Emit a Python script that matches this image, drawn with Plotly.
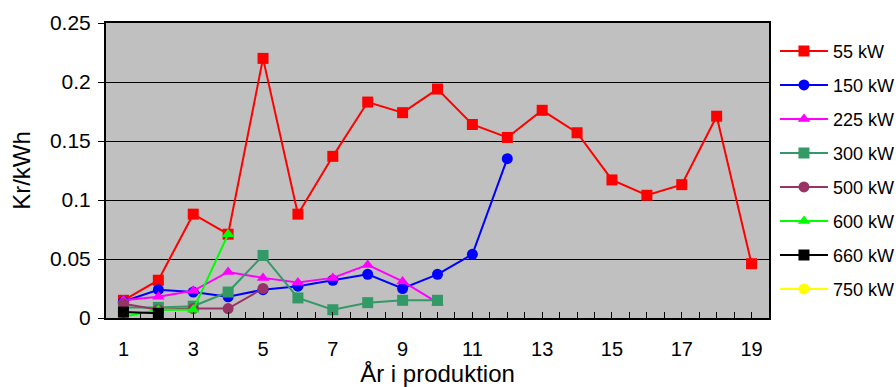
import plotly.graph_objects as go

years = list(range(1, 20))
x_tick_vals = [1, 3, 5, 7, 9, 11, 13, 15, 17, 19]
x_tick_text = ["1", "3", "5", "7", "9", "11", "13", "15", "17", "19"]

series_names = ["55 kW", "150 kW", "225 kW", "300 kW", "500 kW", "600 kW", "660 kW", "750 kW"]

v55 = [0.015, 0.032, 0.088, 0.071, 0.220, 0.088, 0.137, 0.183, 0.174, 0.194,
       0.164, 0.153, 0.176, 0.157, 0.117, 0.104, 0.113, 0.171, 0.046]
v150 = [0.014, 0.024, 0.022, 0.018, 0.024, 0.027, 0.032, 0.037, 0.025, 0.037,
        0.054, 0.135]
v225 = [0.015, 0.018, 0.023, 0.039, 0.034, 0.030, 0.034, 0.045, 0.031, 0.013]
v300 = [0.009, 0.009, 0.010, 0.022, 0.053, 0.017, 0.007, 0.013, 0.015, 0.015]
v500 = [0.012, 0.007, 0.008, 0.008, 0.025]
v600 = [0.001, 0.007, 0.007, 0.071]
v660 = [0.005, 0.004]
v750 = []

values = [v55, v150, v225, v300, v500, v600, v660, v750]
colors = ["#FF0000", "#0000FF", "#FF00FF", "#339966", "#993366", "#00FF00", "#000000", "#FFFF00"]
symbols = ["square", "circle", "triangle-up", "square", "circle", "triangle-up", "square", "circle"]

fig = go.Figure()
for name, vals, col, sym in zip(series_names, values, colors, symbols):
    xs = years[:len(vals)] if vals else [None]
    ys = vals if vals else [None]
    fig.add_trace(go.Scatter(
        x=xs, y=ys, name=name, mode="lines+markers",
        line=dict(color=col, width=2),
        marker=dict(symbol=sym, size=11, color=col),
        legendgroup=name,
    ))

font_family = "Liberation Sans, Arial, sans-serif"
fig.update_layout(
    width=896, height=387,
    margin=dict(l=106, r=127, t=23, b=69, autoexpand=False),
    paper_bgcolor="white",
    plot_bgcolor="#C0C0C0",
    font=dict(family=font_family, size=18, color="black"),
    showlegend=True,
    legend=dict(
        x=1.009, xanchor="left", xref="paper",
        y=0.967, yanchor="top",
        font=dict(size=18, family=font_family),
        tracegroupgap=7.6,
        bgcolor="rgba(0,0,0,0)",
        itemwidth=48,
    ),
    xaxis=dict(
        range=[0.5, 19.5], automargin=False,
        tickmode="array", tickvals=x_tick_vals, ticktext=x_tick_text,
        ticks="inside", ticklen=6, tickcolor="black", tickwidth=1,
        minor=dict(ticks="inside", tickmode="linear", tick0=0.5, dtick=0.5, ticklen=6, tickcolor="black"),
        showgrid=False, zeroline=False,
        showline=True, linecolor="black", linewidth=2, mirror=True,
        ticklabelstandoff=12,
        title=dict(text="År i produktion", font=dict(size=24), standoff=13),
        tickfont=dict(size=20),
    ),
    yaxis=dict(
        range=[0, 0.25], dtick=0.05, tick0=0, automargin=False,
        ticks="outside", ticklen=6, tickcolor="black",
        showgrid=True, gridcolor="black", gridwidth=1,
        zeroline=False,
        showline=True, linecolor="black", linewidth=2, mirror=True,
        ticklabelstandoff=3,
        title=dict(text="Kr/kWh", font=dict(size=24), standoff=13),
        tickfont=dict(size=21),
    ),
)

fig.write_html("out.html", config={"displayModeBar": False},
               post_script="document.body.style.margin='0';document.body.style.overflow='hidden';")
